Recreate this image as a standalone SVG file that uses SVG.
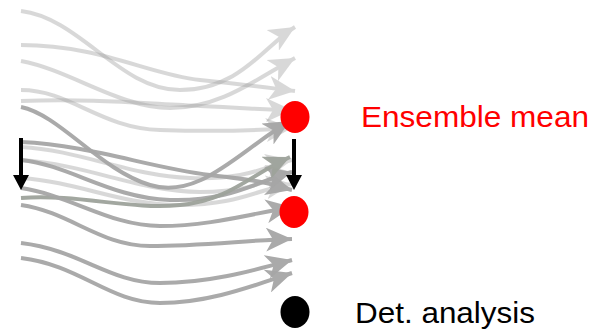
<svg xmlns="http://www.w3.org/2000/svg" width="594" height="330" viewBox="0 0 594 330">
  <defs>
    <style>
      .traj { fill: none; stroke-width: 4; stroke-linecap: butt; }
      .prior { stroke: #a0a0a0; opacity: 0.4; marker-end: url(#headLight); }
      .post { stroke: #a6a6a6; opacity: 0.95; marker-end: url(#headDark); }
      .postg { stroke: #9ea39b; opacity: 0.95; marker-end: url(#headGreen); }
      .shift { stroke: #000; stroke-width: 4; fill: none; }
      .label { font-family: "Liberation Sans", Arial, sans-serif; font-size: 30px; }
    </style>
    <marker id="headLight" viewBox="0 0 26 24" markerWidth="26" markerHeight="24" refX="26" refY="12" orient="auto" markerUnits="userSpaceOnUse">
      <path d="M0,0 L26,12 L0,24 L7,12 Z" fill="#a0a0a0"/>
    </marker>
    <marker id="headDark" viewBox="0 0 26 24" markerWidth="26" markerHeight="24" refX="26" refY="12" orient="auto" markerUnits="userSpaceOnUse">
      <path d="M0,0 L26,12 L0,24 L7,12 Z" fill="#a6a6a6"/>
    </marker>
    <marker id="headGreen" viewBox="0 0 26 24" markerWidth="26" markerHeight="24" refX="26" refY="12" orient="auto" markerUnits="userSpaceOnUse">
      <path d="M0,0 L26,12 L0,24 L7,12 Z" fill="#9ea39b"/>
    </marker>
  </defs>

  <!-- first-guess ensemble trajectories -->
  <g id="prior-ensemble" class="traj">
    <path class="traj prior" d="M21,11 C80,18 120,90 180,90 S265,45 295,27"/>
    <path class="traj prior" d="M21,45 C100,45 150,75 200,80 S270,88 295,91"/>
    <path class="traj prior" d="M21,61 C70,70 120,108 170,108 S255,80 295,58"/>
    <path class="traj prior" d="M21,90 C70,90 100,128 160,130 S265,130 292,128"/>
    <path class="traj prior" d="M21,101 C90,98 150,104 200,106 S265,110 292,110"/>
    <path class="traj prior" d="M21,147 C80,150 130,176 190,178 S265,166 292,160"/>
    <path class="traj prior" d="M21,160 C90,165 140,192 200,192 S270,176 292,172"/>
    <path class="traj prior" d="M21,178 C80,182 120,205 180,205 S260,188 292,184"/>
  </g>

  <!-- corrected ensemble trajectories -->
  <g id="analysis-ensemble" class="traj">
    <path class="traj post" d="M21,107 C60,115 100,170 150,185 S240,150 290,121"/>
    <path class="traj post" d="M21,142 C90,145 150,168 210,175 S265,183 292,190"/>
    <path class="traj post" d="M21,160 C70,165 110,198 170,200 S260,180 292,172"/>
    <path class="traj postg" d="M21,198 C80,194 130,210 180,205 S250,175 290,157"/>
    <path class="traj post" d="M21,188 C70,195 110,226 160,226 S250,214 292,207"/>
    <path class="traj post" d="M21,205 C70,212 100,246 150,246 S250,240 292,239"/>
    <path class="traj post" d="M21,243 C80,250 110,283 160,283 S255,270 292,260"/>
    <path class="traj post" d="M21,258 C80,265 110,303 160,303 S255,285 292,273"/>
  </g>

  <!-- shift arrows -->
  <g id="shift-left">
    <line class="shift" x1="21" y1="138" x2="21" y2="176"/>
    <polygon points="13,175 29,175 21,190" fill="#000"/>
  </g>
  <g id="shift-right">
    <line class="shift" x1="294" y1="139" x2="294" y2="176"/>
    <polygon points="286,175 302,175 294,190" fill="#000"/>
  </g>

  <!-- markers -->
  <g id="mean-prior">
    <ellipse cx="295" cy="117" rx="14.5" ry="16" fill="#ff0000"/>
  </g>
  <g id="mean-analysis">
    <ellipse cx="294" cy="212" rx="14.5" ry="16" fill="#ff0000"/>
  </g>
  <g id="det-analysis">
    <ellipse cx="295" cy="312" rx="14.5" ry="16" fill="#000"/>
  </g>

  <!-- legend labels -->
  <g id="label-mean">
    <text class="label" x="361" y="127" fill="#ff0000" textLength="228" lengthAdjust="spacingAndGlyphs">Ensemble mean</text>
  </g>
  <g id="label-det">
    <text class="label" x="355" y="323" fill="#000" textLength="180" lengthAdjust="spacingAndGlyphs">Det. analysis</text>
  </g>
</svg>
